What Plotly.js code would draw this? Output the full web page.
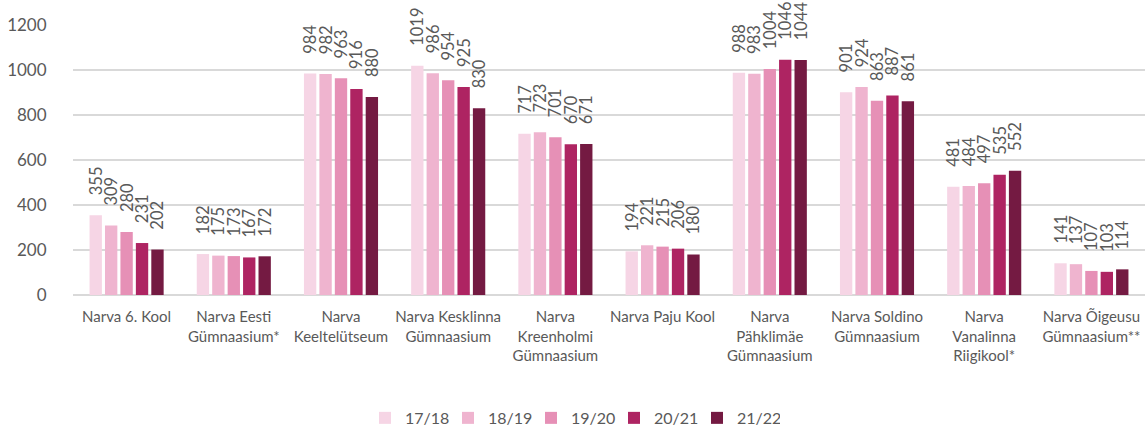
<!DOCTYPE html>
<html>
<head>
<meta charset="utf-8">
<script src="https://cdn.plot.ly/plotly-3.0.1.min.js"></script>
<style>html,body{margin:0;padding:0;background:#fff;}#chart{width:1145px;height:430px;}</style>
</head>
<body>
<div id="chart"></div>
<script>
const categories = ["Narva 6. Kool", "Narva Eesti<br>Gümnaasium*", "Narva<br>Keeltelütseum", "Narva Kesklinna<br>Gümnaasium", "Narva<br>Kreenholmi<br>Gümnaasium", "Narva Paju Kool", "Narva<br>Pähklimäe<br>Gümnaasium", "Narva Soldino<br>Gümnaasium", "Narva<br>Vanalinna<br>Riigikool*", "Narva Õigeusu<br>Gümnaasium**"];
const seriesNames = ["17/18", "18/19", "19/20", "20/21", "21/22"];
const y1718 = [355, 182, 984, 1019, 717, 194, 988, 901, 481, 141];
const y1819 = [309, 175, 982, 986, 723, 221, 983, 924, 484, 137];
const y1920 = [280, 173, 963, 954, 701, 215, 1004, 863, 497, 107];
const y2021 = [231, 167, 916, 925, 670, 206, 1046, 887, 535, 103];
const y2122 = [202, 172, 880, 830, 671, 180, 1044, 861, 552, 114];
const colors = ["#f6d5e5", "#efb4cf", "#e690b6", "#ae2462", "#741a42"];

const allY = [y1718, y1819, y1920, y2021, y2122];
const FONT = "Lato, 'Open Sans', sans-serif";
const PAD = "\u00a0\u00a0\u00a0\u00a0";
const traces = allY.map((ys, i) => ({
  type: 'bar',
  name: seriesNames[i],
  x: categories,
  y: ys,
  marker: {color: colors[i]},
  text: ys.map(v => PAD + String(v)),
  textposition: 'outside',
  textangle: -90,
  constraintext: 'none',
  cliponaxis: false,
  textfont: {family: FONT, size: 16.5, color: '#595959'},
  hoverinfo: 'x+y+name'
}));

const layout = {
  width: 1145, height: 430,
  margin: {l: 73, r: 0, t: 25, b: 135},
  paper_bgcolor: '#fff', plot_bgcolor: '#fff',
  barmode: 'group',
  bargap: 0.28,
  bargroupgap: 0.2,
  font: {family: FONT, color: '#595959'},
  xaxis: {
    type: 'category',
    automargin: false,
    tickfont: {family: FONT, size: 15, color: '#595959'},
    ticks: 'outside', ticklen: 8, tickcolor: 'rgba(0,0,0,0)',
    showline: false, showgrid: false, tickangle: 0
  },
  yaxis: {
    range: [0, 1200],
    dtick: 200,
    automargin: false,
    tickfont: {family: FONT, size: 17, color: '#595959'},
    gridcolor: '#d9d9d9', gridwidth: 1.5,
    zeroline: true, zerolinecolor: '#d9d9d9', zerolinewidth: 2,
    ticks: 'outside', ticklen: 22, tickcolor: 'rgba(0,0,0,0)'
  },
  legend: {
    orientation: 'h', xref: 'container', yref: 'container',
    x: 0.5, xanchor: 'center', y: 0.028, yanchor: 'middle',
    font: {family: FONT, size: 16, color: '#595959'},
    itemwidth: 30, entrywidth: 38, traceorder: 'normal'
  },
  showlegend: true
};
Plotly.newPlot('chart', traces, layout, {displayModeBar: false, staticPlot: true});
</script>
</body>
</html>
